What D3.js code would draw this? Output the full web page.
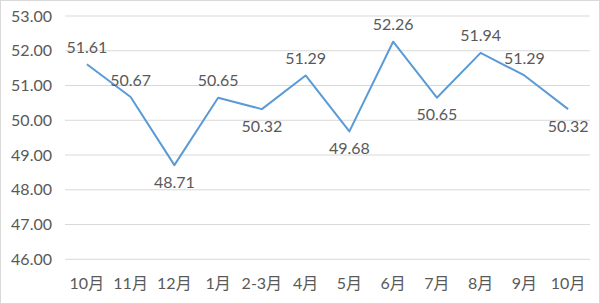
<!DOCTYPE html>
<html>
<head>
<meta charset="utf-8">
<script src="https://cdn.jsdelivr.net/npm/d3@7"></script>
<style>
  body { margin: 0; background: #fff; }
  text { font-family: Lato, "Noto Sans CJK SC", sans-serif; fill: #595959; }
</style>
</head>
<body>
<div id="chart"></div>
<script>
const w = 600;
const h = 304;

const months = ["10月", "11月", "12月", "1月", "2-3月", "4月", "5月", "6月", "7月", "8月", "9月", "10月"];
const values = [51.61, 50.67, 48.71, 50.65, 50.32, 51.29, 49.68, 52.26, 50.65, 51.94, 51.29, 50.32];
// where each data label sits, as in the original
const labelPos = ["up", "up", "down", "up", "down", "up", "down", "up", "down", "up", "up", "down"];
const yTicks = [46, 47, 48, 49, 50, 51, 52, 53];

const margin = {top: 16, right: 10, bottom: 44.7, left: 65};

const svg = d3.select("#chart").append("svg")
  .attr("width", w).attr("height", h);

svg.append("rect")
  .attr("x", 0.5).attr("y", 0.5)
  .attr("width", w - 1).attr("height", h - 1)
  .attr("fill", "#fff").attr("stroke", "#d9d9d9");

const x = d3.scaleBand()
  .domain(d3.range(months.length))
  .range([margin.left, w - margin.right]);

const y = d3.scaleLinear()
  .domain([46, 53])
  .range([h - margin.bottom, margin.top]);

// gridlines
svg.append("g").selectAll("line")
  .data(yTicks)
  .enter().append("line")
  .attr("x1", margin.left).attr("x2", w - margin.right)
  .attr("y1", (d) => y(d)).attr("y2", (d) => y(d))
  .attr("stroke", "#d9d9d9").attr("stroke-width", 1);

// y tick labels
svg.append("g").selectAll("text")
  .data(yTicks)
  .enter().append("text")
  .attr("x", 52).attr("y", (d) => y(d))
  .attr("dy", "0.35em")
  .attr("text-anchor", "end")
  .style("font-size", "16px")
  .text((d) => d.toFixed(2));

// x labels
svg.append("g").selectAll("text")
  .data(months)
  .enter().append("text")
  .attr("x", (d, i) => x(i) + x.bandwidth() / 2)
  .attr("y", 283)
  .attr("dy", "0.35em")
  .attr("text-anchor", "middle")
  .style("font-size", "16px")
  .text((d) => d);

const line = d3.line()
  .x((d, i) => x(i) + x.bandwidth() / 2)
  .y((d) => y(d));

svg.append("path")
  .datum(values)
  .attr("d", line)
  .attr("fill", "none")
  .attr("stroke", "#5b9bd5")
  .attr("stroke-width", 2)
  .attr("stroke-linejoin", "round");

svg.append("g").selectAll("text")
  .data(values)
  .enter().append("text")
  .attr("x", (d, i) => x(i) + x.bandwidth() / 2)
  .attr("y", (d, i) => y(d) + (labelPos[i] === "up" ? -17 : 17))
  .attr("dy", "0.35em")
  .attr("text-anchor", "middle")
  .style("font-size", "16px")
  .text((d) => d.toFixed(2));
</script>
</body>
</html>
